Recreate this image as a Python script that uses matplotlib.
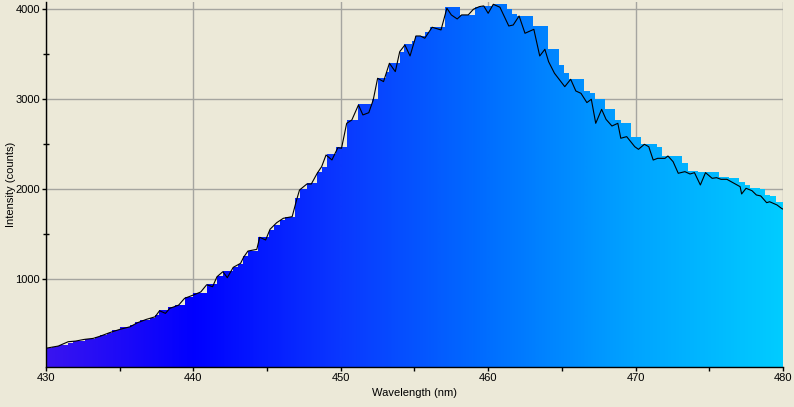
import numpy as np
import matplotlib
matplotlib.use('Agg')
import matplotlib.pyplot as plt
from matplotlib.colors import LinearSegmentedColormap
from matplotlib.ticker import FixedLocator

plt.rcParams['font.family'] = ['Liberation Sans', 'DejaVu Sans']

# raw spectrum (black line)
line_nm = [430.0, 430.83, 431.5, 432.0, 432.6, 433.2, 433.7, 434.3, 435.0, 435.7,
           436.2, 436.8, 437.4, 437.7, 438.1, 438.4, 439.0, 439.4, 440.0, 440.5,
           440.9, 441.3, 441.6, 442.0, 442.3, 442.7, 443.2, 443.4, 443.7, 444.3,
           444.5, 444.9, 445.2, 445.65, 446.1, 446.7, 447.0, 447.2, 447.7, 448.0,
           448.4, 448.7, 449.0, 449.4, 449.8, 450.05, 450.4, 450.75, 451.2, 451.5,
           451.9, 452.2, 452.5, 452.9, 453.3, 453.7, 454.0, 454.35, 454.7, 455.1,
           455.4, 455.7, 456.2, 456.8, 457.2, 457.5, 457.9, 458.2, 458.65, 459.0,
           459.4, 459.7, 460.0, 460.35, 460.8, 461.4, 461.7, 462.1, 462.5, 463.1,
           463.5, 463.85, 464.1, 464.5, 465.2, 465.6, 465.95, 466.3, 466.7, 467.0,
           467.3, 467.7, 468.0, 468.4, 468.8, 469.0, 469.4, 469.95, 470.2, 470.6,
           470.9, 471.2, 471.5, 472.0, 472.2, 472.55, 472.9, 473.35, 473.7, 474.0,
           474.4, 474.75, 475.2, 475.5, 475.8, 476.2, 476.7, 477.1, 477.2, 477.5,
           477.9, 478.2, 478.5, 478.9, 479.1, 479.6, 479.9, 480.0]
line_counts = [235, 259, 307, 314, 333, 344, 370, 407, 444, 473,
               518, 555, 584, 651, 622, 678, 714, 789, 826, 860,
               940, 918, 1029, 1085, 1018, 1133, 1178, 1244, 1314, 1333,
               1467, 1437, 1556, 1629, 1678, 1696, 1881, 1992, 2059, 2059,
               2178, 2251, 2381, 2326, 2462, 2456, 2733, 2770, 2937, 2826,
               2851, 2992, 3233, 3196, 3400, 3307, 3529, 3603, 3481, 3703,
               3703, 3678, 3800, 3770, 4011, 3937, 3892, 3937, 3937, 4000,
               4029, 4037, 3955, 4055, 4022, 3814, 3825, 3925, 3733, 3777,
               3481, 3555, 3418, 3289, 3140, 3222, 3092, 3066, 2963, 3000,
               2733, 2888, 2777, 2703, 2733, 2567, 2585, 2473, 2444, 2500,
               2473, 2325, 2344, 2344, 2370, 2307, 2178, 2196, 2170, 2185,
               2048, 2185, 2122, 2129, 2111, 2111, 2066, 2029, 1948, 2011,
               1985, 1937, 1926, 1851, 1862, 1826, 1789, 1780]

# stepped (binned) spectrum drawn as coloured fill
bin_edges = [430.00, 430.39, 430.73, 430.90, 431.51, 431.85, 432.65, 433.32, 433.66, 434.12,
             434.46, 435.02, 435.70, 436.04, 436.38, 437.06, 437.39, 437.69, 438.30, 438.75,
             439.09, 439.43, 439.99, 440.90, 441.58, 441.99, 442.71, 443.05, 443.34, 443.72,
             444.40, 445.15, 445.49, 445.88, 446.21, 446.89, 447.23, 447.69, 448.37, 448.70,
             449.04, 449.65, 450.40, 451.19, 452.10, 452.50, 453.05, 453.27, 454.02, 454.29,
             454.81, 455.03, 455.71, 456.05, 457.07, 458.09, 459.10, 459.56, 460.31, 461.26,
             461.59, 461.93, 463.02, 464.04, 464.80, 465.14, 465.48, 466.50, 466.91, 467.25,
             467.93, 468.61, 468.99, 469.67, 470.35, 471.43, 471.77, 473.18, 473.55, 474.23,
             475.64, 476.32, 476.99, 477.42, 477.76, 478.44, 478.78, 479.12, 479.53, 480.00]
bin_counts = [233, 244, 259, 270, 296, 318, 337, 363, 381, 407,
              437, 466, 492, 522, 548, 573, 603, 659, 696, 711,
              720, 807, 851, 948, 1037, 1092, 1140, 1166, 1259, 1318,
              1467, 1548, 1603, 1659, 1689, 1900, 2000, 2066, 2196, 2251,
              2392, 2466, 2770, 2944, 3000, 3233, 3300, 3400, 3520, 3611,
              3650, 3703, 3751, 3800, 4022, 3937, 4029, 4037, 4059, 4000,
              3948, 3925, 3814, 3559, 3381, 3296, 3226, 3096, 3066, 3003,
              2892, 2770, 2737, 2585, 2503, 2473, 2373, 2289, 2207, 2192,
              2140, 2122, 2085, 2048, 2011, 2000, 1937, 1926, 1862]

# wavelength colour stops for the fill
stop_nm = [430, 440, 450, 460, 470, 480]
stop_colors = ['#3a14f0', '#0000ff', '#0a38ff', '#006eff', '#00a4ff', '#00ccff']

bg = '#ece9d8'
fig = plt.figure(figsize=(7.94, 4.07), dpi=100, facecolor=bg)
ax = fig.add_axes([0.058, 0.098, 0.928, 0.897], facecolor=bg)

xmin, xmax = 430, 480
ymin, ymax = 25, 4080

pos = [(n - stop_nm[0]) / (stop_nm[-1] - stop_nm[0]) for n in stop_nm]
cmap = LinearSegmentedColormap.from_list('spec', list(zip(pos, stop_colors)))

patch = ax.stairs(bin_counts, bin_edges, baseline=0, fill=True,
                  color='none', linewidth=0, zorder=2)
grad = np.linspace(0, 1, 512).reshape(1, -1)
im = ax.imshow(grad, cmap=cmap, aspect='auto', extent=[xmin, xmax, 0, ymax],
               origin='lower', zorder=2, interpolation='bilinear')
im.set_clip_path(patch)

ax.plot(line_nm, line_counts, color='black', linewidth=0.8, zorder=3)

ax.set_xlim(xmin, xmax)
ax.set_ylim(ymin, ymax)

ax.set_xticks(np.arange(430, 481, 10))
ax.xaxis.set_minor_locator(FixedLocator([435, 445, 455, 465, 475]))
ax.set_yticks([1000, 2000, 3000, 4000])
ax.yaxis.set_minor_locator(FixedLocator([1500, 2500, 3500]))

ax.tick_params(axis='both', which='major', direction='out', length=3,
               width=1, labelsize=8, colors='black', pad=1.5)
ax.tick_params(axis='x', which='minor', direction='out', length=3, width=1)
ax.tick_params(axis='y', which='minor', direction='inout', length=4, width=1)

ax.grid(True, which='major', color='#a5a5a0', linewidth=1, zorder=0)
ax.set_axisbelow(True)

for s in ['top', 'right']:
    ax.spines[s].set_visible(False)
for s in ['left', 'bottom']:
    ax.spines[s].set_color('black')
    ax.spines[s].set_linewidth(1)

ax.set_xlabel('Wavelength (nm)', fontsize=8)
ax.set_ylabel('Intensity (counts)', fontsize=8)
ax.xaxis.set_label_coords(0.5, -0.056)
ax.yaxis.set_label_coords(-0.041, 0.5)

fig.savefig('out.png', dpi=100, facecolor=bg)
